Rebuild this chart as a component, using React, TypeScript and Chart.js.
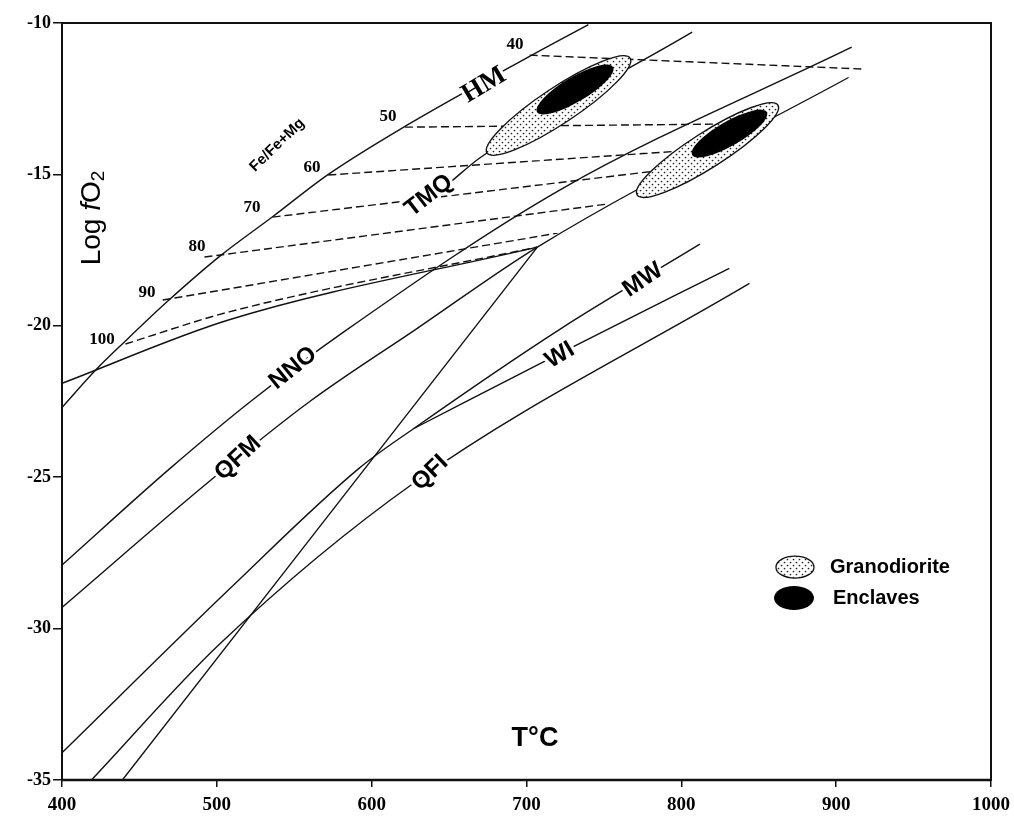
import React, { useEffect, useRef } from "react";
import { Chart, registerables } from "chart.js";

Chart.register(...registerables);

// ---- buffer curves (T °C, log fO2) ----
const hmT = [400, 421, 441, 468, 502, 536, 572, 622, 702, 740];
const hmL = [-22.7, -21.5, -20.5, -19.2, -17.7, -16.4, -15.0, -13.4, -11.1, -10.05];
const nnoT = [400, 470, 523, 582, 722, 910];
const nnoL = [-27.9, -24.7, -22.45, -20.2, -15.5, -10.8];
const qfmT = [400, 496, 560, 629, 707, 908];
const qfmL = [-29.3, -25.1, -22.5, -20.1, -17.4, -11.8];
const tmqT = [651, 670, 807];
const tmqL = [-15.25, -14.45, -10.3];
const mwT = [400, 510, 592, 627, 722, 812];
const mwL = [-34.1, -28.6, -24.7, -23.4, -20.1, -17.3];
const wiT = [627, 722, 831];
const wiL = [-23.4, -20.9, -18.1];
const qfiT = [419, 502, 627, 844];
const qfiL = [-35, -30.5, -25.2, -18.6];
const lowLineT = [400, 508, 707];
const lowLineL = [-21.9, -19.8, -17.4];
const steepLineT = [439, 707];
const steepLineL = [-35, -17.4];

// ---- Fe/(Fe+Mg) isopleths (dashed) ----
const isoNames = ["40", "50", "60", "70", "80", "90", "100"];
const isoT = [
  [702, 917],
  [621.5, 822],
  [572, 799],
  [536, 783],
  [492, 752],
  [465, 720],
  [441, 508, 707],
];
const isoL = [
  [-11.06, -11.52],
  [-13.44, -13.34],
  [-15.02, -14.23],
  [-16.41, -14.89],
  [-17.73, -15.98],
  [-19.15, -16.94],
  [-20.6, -19.54, -17.4],
];

// ---- sample fields: [T1, L1, T2, L2] tips of each ellipse ----
const granodioriteFields = [
  [674.5, -14.29, 766.9, -11.16],
  [771.4, -15.68, 862.4, -12.71],
];
const enclaveFields = [
  [706.8, -12.94, 755.9, -11.45],
  [806.9, -14.36, 855.3, -12.94],
];

// ---- axis ticks ----
const xTicks = [400, 500, 600, 700, 800, 900, 1000];
const yTicks = [-35, -30, -25, -20, -15, -10];

// ---- annotation texts ----
const SANS = "'Liberation Sans', Arial, sans-serif";
const SERIF = "'Liberation Serif', 'Times New Roman', serif";
const curveLabels = [
  { text: "HM", T: 672.6, L: -12.05, rot: -31, font: `bold 27px ${SERIF}` },
  { text: "TMQ", T: 637, L: -15.7, rot: -38, font: `bold 24px ${SANS}` },
  { text: "NNO", T: 549.2, L: -21.4, rot: -39, font: `bold 24px ${SANS}` },
  { text: "QFM", T: 513.7, L: -24.37, rot: -43, font: `bold 24px ${SANS}` },
  { text: "MW", T: 775.2, L: -18.49, rot: -34, font: `bold 24px ${SANS}` },
  { text: "WI", T: 721.6, L: -20.97, rot: -31, font: `bold 24px ${SANS}` },
  { text: "QFI", T: 637.7, L: -24.86, rot: -44, font: `bold 24px ${SANS}` },
];
const isoLabelT = [692.6, 610.6, 561.5, 522.7, 487.2, 454.9, 425.8];
const isoLabelL = [-10.73, -13.1, -14.76, -16.11, -17.4, -18.89, -20.44];

const line = (T: number[], L: number[], dashed = false) => ({
  data: T.map((t, i) => ({ x: t, y: L[i] })),
  showLine: true,
  pointRadius: 0,
  borderColor: "#111",
  borderWidth: 1.4,
  borderDash: dashed ? [8, 4] : [],
  cubicInterpolationMode: "monotone" as const,
  fill: false,
});

function makeDotPattern(ctx: CanvasRenderingContext2D) {
  const c = document.createElement("canvas");
  c.width = 6;
  c.height = 6;
  const g = c.getContext("2d")!;
  g.fillStyle = "#fff";
  g.fillRect(0, 0, 6, 6);
  g.fillStyle = "#222";
  g.beginPath();
  g.arc(1.5, 1.5, 0.85, 0, Math.PI * 2);
  g.arc(4.5, 4.5, 0.85, 0, Math.PI * 2);
  g.fill();
  return ctx.createPattern(c, "repeat")!;
}

function drawRotText(
  ctx: CanvasRenderingContext2D,
  text: string,
  x: number,
  y: number,
  rot: number,
  font: string,
  halo: boolean
) {
  ctx.save();
  ctx.translate(x, y);
  ctx.rotate((rot * Math.PI) / 180);
  ctx.font = font;
  ctx.textAlign = "center";
  ctx.textBaseline = "middle";
  if (halo) {
    ctx.strokeStyle = "#fff";
    ctx.lineWidth = 6;
    ctx.lineJoin = "round";
    ctx.strokeText(text, 0, 0);
  }
  ctx.fillStyle = "#000";
  ctx.fillText(text, 0, 0);
  ctx.restore();
}

const decorPlugin = {
  id: "decor",
  afterDatasetsDraw(chart: any) {
    const ctx: CanvasRenderingContext2D = chart.ctx;
    const xs = chart.scales.x;
    const ys = chart.scales.y;
    const px = (t: number) => xs.getPixelForValue(t);
    const py = (l: number) => ys.getPixelForValue(l);
    const area = chart.chartArea;
    const pattern = makeDotPattern(ctx);

    const ellipse = (f: number[], ratio: number) => {
      const x1 = px(f[0]), y1 = py(f[1]), x2 = px(f[2]), y2 = py(f[3]);
      const cx = (x1 + x2) / 2, cy = (y1 + y2) / 2;
      const len = Math.hypot(x2 - x1, y2 - y1) / 2;
      const ang = Math.atan2(y2 - y1, x2 - x1);
      ctx.beginPath();
      ctx.ellipse(cx, cy, len, len * ratio, ang, 0, Math.PI * 2);
    };

    ctx.save();
    granodioriteFields.forEach((f) => {
      ellipse(f, 0.21);
      ctx.fillStyle = pattern;
      ctx.fill();
      ctx.lineWidth = 1.4;
      ctx.strokeStyle = "#111";
      ctx.stroke();
    });
    enclaveFields.forEach((f) => {
      ellipse(f, 0.28);
      ctx.fillStyle = "#000";
      ctx.fill();
    });
    ctx.restore();

    // curve labels
    curveLabels.forEach((c) =>
      drawRotText(ctx, c.text, px(c.T), py(c.L), c.rot, c.font, true)
    );
    // isopleth numbers
    isoNames.forEach((n, i) =>
      drawRotText(ctx, n, px(isoLabelT[i]), py(isoLabelL[i]), 0, `bold 17px ${SERIF}`, false)
    );
    drawRotText(ctx, "Fe/Fe+Mg", px(539), py(-14.03), -44, `bold 15px ${SANS}`, false);

    // T°C
    drawRotText(ctx, "T°C", px(705.5), py(-33.62), 0, `bold 27px ${SANS}`, false);

    // Log fO2 (rotated)
    ctx.save();
    ctx.translate(px(419.4), py(-16.44));
    ctx.rotate(-Math.PI / 2);
    ctx.textBaseline = "middle";
    ctx.textAlign = "left";
    const fN = `28px ${SANS}`;
    const fI = `italic 28px ${SANS}`;
    const fS = `19px ${SANS}`;
    ctx.font = fN;
    const w1 = ctx.measureText("Log ").width;
    ctx.font = fI;
    const w2 = ctx.measureText("f").width;
    ctx.font = fN;
    const w3 = ctx.measureText("O").width;
    ctx.font = fS;
    const w4 = ctx.measureText("2").width;
    let cx = -(w1 + w2 + w3 + w4) / 2;
    ctx.fillStyle = "#000";
    ctx.font = fN;
    ctx.fillText("Log ", cx, 0);
    cx += w1;
    ctx.font = fI;
    ctx.fillText("f", cx, 0);
    cx += w2;
    ctx.font = fN;
    ctx.fillText("O", cx, 0);
    cx += w3;
    ctx.font = fS;
    ctx.fillText("2", cx, 7);
    ctx.restore();

    // legend
    ctx.save();
    const lx = px(873.4);
    const ly1 = py(-27.97);
    const ly2 = py(-28.99);
    ctx.beginPath();
    ctx.ellipse(lx, ly1, 19, 11, 0, 0, Math.PI * 2);
    ctx.fillStyle = pattern;
    ctx.fill();
    ctx.lineWidth = 1.3;
    ctx.strokeStyle = "#111";
    ctx.stroke();
    ctx.beginPath();
    ctx.ellipse(lx - 1, ly2, 20, 12, 0, 0, Math.PI * 2);
    ctx.fillStyle = "#000";
    ctx.fill();
    ctx.font = `bold 20px ${SANS}`;
    ctx.textAlign = "left";
    ctx.textBaseline = "middle";
    ctx.fillText("Granodiorite", lx + 35, ly1);
    ctx.fillText("Enclaves", lx + 38, ly2);
    ctx.restore();

    // frame
    ctx.save();
    ctx.strokeStyle = "#111";
    ctx.lineWidth = 2;
    ctx.strokeRect(area.left, area.top, area.right - area.left, area.bottom - area.top);
    ctx.lineWidth = 2.6;
    ctx.beginPath();
    ctx.moveTo(area.left, area.bottom);
    ctx.lineTo(area.right, area.bottom);
    ctx.stroke();
    ctx.restore();
  },
};

export default function App() {
  const ref = useRef<HTMLCanvasElement>(null);
  useEffect(() => {
    if (!ref.current) return;
    const datasets: any[] = [
      line(hmT, hmL),
      line(nnoT, nnoL),
      line(qfmT, qfmL),
      line(tmqT, tmqL),
      line(mwT, mwL),
      line(wiT, wiL),
      line(qfiT, qfiL),
      line(lowLineT, lowLineL),
      line(steepLineT, steepLineL),
      ...isoT.map((T, i) => line(T, isoL[i], true)),
    ];
    const chart = new Chart(ref.current, {
      type: "scatter",
      data: { datasets },
      options: {
        animation: false,
        responsive: true,
        maintainAspectRatio: false,
        events: [],
        layout: { padding: { top: 23, right: 23, left: 0, bottom: 0 } },
        plugins: { legend: { display: false }, tooltip: { enabled: false } },
        scales: {
          x: {
            type: "linear",
            min: xTicks[0],
            max: xTicks[xTicks.length - 1],
            afterFit: (s: any) => {
              s.height = 39;
              s.paddingRight = 0;
              s.paddingLeft = 0;
            },
            afterBuildTicks: (s: any) => {
              s.ticks = xTicks.map((v) => ({ value: v }));
            },
            ticks: {
              color: "#000",
              padding: 7,
              maxRotation: 0,
              font: { family: SERIF, size: 19, weight: "bold" },
              callback: (v: any) => String(v),
            },
            grid: { display: true, drawOnChartArea: false, drawTicks: true, tickLength: 7, color: "#111", lineWidth: 1.5 },
            border: { display: true, color: "#111", width: 2 },
          },
          y: {
            type: "linear",
            min: yTicks[0],
            max: yTicks[yTicks.length - 1],
            afterFit: (s: any) => {
              s.width = 62;
              s.paddingTop = 0;
              s.paddingBottom = 0;
            },
            afterBuildTicks: (s: any) => {
              s.ticks = yTicks.map((v) => ({ value: v }));
            },
            ticks: {
              color: "#000",
              padding: 2,
              font: { family: SERIF, size: 18, weight: "bold" },
              callback: (v: any) => String(v),
            },
            grid: { display: true, drawOnChartArea: false, drawTicks: true, tickLength: 9, color: "#111", lineWidth: 1.5 },
            border: { display: true, color: "#111", width: 2 },
          },
        },
      },
      plugins: [decorPlugin],
    });
    return () => chart.destroy();
  }, []);
  return (
    <div style={{ position: "absolute", left: 0, top: 0, width: 1014, height: 819, background: "#fff" }}>
      <canvas ref={ref} />
    </div>
  );
}
